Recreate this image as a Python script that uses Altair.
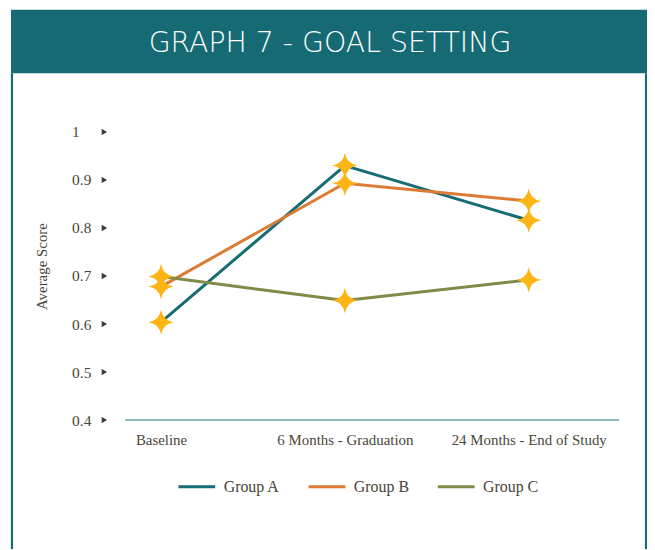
import altair as alt
import pandas as pd

# ---- data ----
timepoints = ["Baseline", "6 Months - Graduation", "24 Months - End of Study"]
groups = ["Group A", "Group B", "Group C"]
group_a = [0.604, 0.930, 0.816]
group_b = [0.678, 0.893, 0.856]
group_c = [0.699, 0.649, 0.692]
y_ticks = [0.4, 0.5, 0.6, 0.7, 0.8, 0.9, 1.0]
title_text = "GRAPH 7 - GOAL SETTING"

rows = []
for g, vals in zip(groups, [group_a, group_b, group_c]):
    for t, v in zip(timepoints, vals):
        rows.append({"Timepoint": t, "Group": g, "Score": v})
df = pd.DataFrame(rows)
ticks_df = pd.DataFrame({"Score": y_ticks})

TEAL = "#156A73"
TEXT = "#4a4538"
SERIF = "Liberation Serif"
STAR = "M0,-1 Q0.13,-0.13 1,0 Q0.13,0.13 0,1 Q-0.13,0.13 -1,0 Q-0.13,-0.13 0,-1 Z"

x_enc = alt.X("Timepoint:N", sort=timepoints,
              scale=alt.Scale(type="point", range=[36, 406], padding=0),
              axis=alt.Axis(title=None, labelAngle=0, ticks=False, domain=False,
                            labelFont=SERIF, labelFontSize=15,
                            labelColor=TEXT, labelPadding=13, grid=False))
y_enc = alt.Y("Score:Q", scale=alt.Scale(domain=[0.4, 1.0], nice=False, zero=False),
              axis=alt.Axis(values=y_ticks, format=".1~f", title="Average Score",
                            ticks=False, domain=False, grid=False,
                            labelAlign="left", labelPadding=54, labelFont=SERIF,
                            labelFontSize=15.5, labelColor=TEXT,
                            titleFont=SERIF, titleFontSize=15, titleColor=TEXT,
                            titleFontWeight="normal", titleAngle=-90,
                            titleX=-84, titleY=135, titleAlign="center",
                            titleBaseline="middle"))
color_enc = alt.Color("Group:N", scale=alt.Scale(domain=groups,
                                                 range=["#156C74", "#DB7B34", "#7F8B47"]),
                      legend=alt.Legend(title=None, orient="none", direction="horizontal",
                                        legendX=52, legendY=337, symbolType="stroke",
                                        symbolSize=1369, symbolStrokeWidth=3,
                                        labelFont=SERIF, labelFontSize=16,
                                        labelColor=TEXT, labelOffset=7, columnPadding=22))

lines = alt.Chart(df).mark_line(strokeWidth=3).encode(x=x_enc, y=y_enc, color=color_enc,
                                                         detail="Group:N")
stars = alt.Chart(df).mark_point(shape=STAR, filled=True, size=650, color="#FDB515",
                                 opacity=1, strokeWidth=0).encode(
    x=alt.X("Timepoint:N", sort=timepoints), y="Score:Q", detail="Group:N")

tri = alt.Chart(ticks_df).mark_point(shape="triangle-right", filled=True, size=40,
                                     color="#3d3a30", opacity=1).encode(
    x=alt.value(-21), y="Score:Q")

one = alt.Data(values=[{"k": 1}])
header = alt.Chart(one).mark_rect(color=TEAL).encode(
    x=alt.value(-115), x2=alt.value(526), y=alt.value(-123), y2=alt.value(-59))
title = alt.Chart(one).mark_text(text=title_text, color="white", font="DejaVu Sans",
                                 fontSize=28.5, fontWeight=300, align="center",
                                 baseline="middle").encode(
    x=alt.value(206), y=alt.value(-89))
left_border = alt.Chart(one).mark_rule(color=TEAL, strokeWidth=2.2).encode(
    x=alt.value(-114), y=alt.value(-59), y2=alt.value(430))
right_border = alt.Chart(one).mark_rule(color=TEAL, strokeWidth=2.2).encode(
    x=alt.value(524), y=alt.value(-59), y2=alt.value(430))
x_domain = alt.Chart(one).mark_rule(color="#6AA3AA", strokeWidth=1.5).encode(
    x=alt.value(0), x2=alt.value(497), y=alt.value(290))

chart = alt.layer(header, title, left_border, right_border, x_domain, tri, lines,
                  stars).properties(
    width=497, height=290,
    autosize=alt.AutoSizeParams(type="none"),
    padding={"left": 118, "top": 123, "right": 28, "bottom": 128},
    background="white",
).configure_view(stroke=None)

chart.save("out.html", embed_options={"renderer": "svg", "actions": False})
